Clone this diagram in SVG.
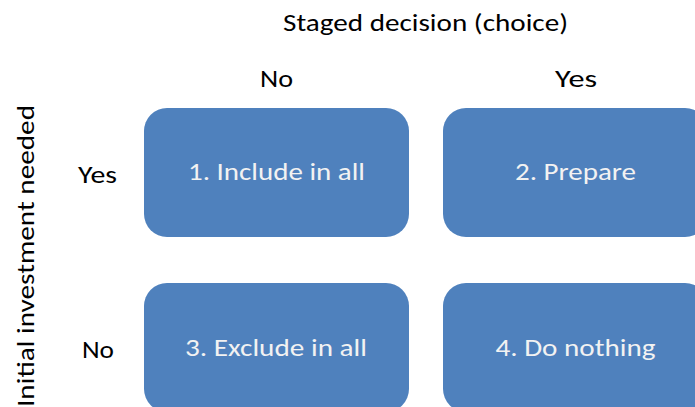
<svg xmlns="http://www.w3.org/2000/svg" width="695" height="407" viewBox="0 0 695 407">
  <style>
    .lbl { font-family: Carlito, Lato, "Open Sans", sans-serif; font-size: 24px; fill: #000000; }
    .box { fill: #4f81bd; }
    .boxtxt { font-family: Carlito, Lato, "Open Sans", sans-serif; font-size: 24px; fill: #f2f2f2; text-anchor: middle; }
  </style>
  <rect width="695" height="407" fill="#ffffff"/>

  <!-- axis headings -->
  <g id="axis-top">
    <text class="lbl" x="283" y="31" textLength="285" lengthAdjust="spacingAndGlyphs">Staged decision (choice)</text>
    <text class="lbl" x="260" y="87" textLength="33" lengthAdjust="spacingAndGlyphs">No</text>
    <text class="lbl" x="555" y="87" textLength="42" lengthAdjust="spacingAndGlyphs">Yes</text>
  </g>
  <g id="axis-left">
    <text class="lbl" transform="translate(34,256) rotate(-90)" x="-151" y="0" textLength="302" lengthAdjust="spacingAndGlyphs">Initial investment needed</text>
    <text class="lbl" x="78" y="183" textLength="39" lengthAdjust="spacingAndGlyphs">Yes</text>
    <text class="lbl" x="82" y="358" textLength="32" lengthAdjust="spacingAndGlyphs">No</text>
  </g>

  <!-- quadrant boxes -->
  <g id="q1">
    <rect class="box" x="144" y="108" width="265" height="129" rx="23" ry="23"/>
    <text class="boxtxt" x="276.5" y="180" textLength="177" lengthAdjust="spacingAndGlyphs">1. Include in all</text>
  </g>
  <g id="q2">
    <rect class="box" x="443" y="108" width="265" height="129" rx="23" ry="23"/>
    <text class="boxtxt" x="575.5" y="180" textLength="121" lengthAdjust="spacingAndGlyphs">2. Prepare</text>
  </g>
  <g id="q3">
    <rect class="box" x="144" y="283" width="265" height="129" rx="23" ry="23"/>
    <text class="boxtxt" x="276" y="356" textLength="182" lengthAdjust="spacingAndGlyphs">3. Exclude in all</text>
  </g>
  <g id="q4">
    <rect class="box" x="443" y="283" width="265" height="129" rx="23" ry="23"/>
    <text class="boxtxt" x="575.5" y="356" textLength="160" lengthAdjust="spacingAndGlyphs">4. Do nothing</text>
  </g>
  <g id="connectors"/>
</svg>
